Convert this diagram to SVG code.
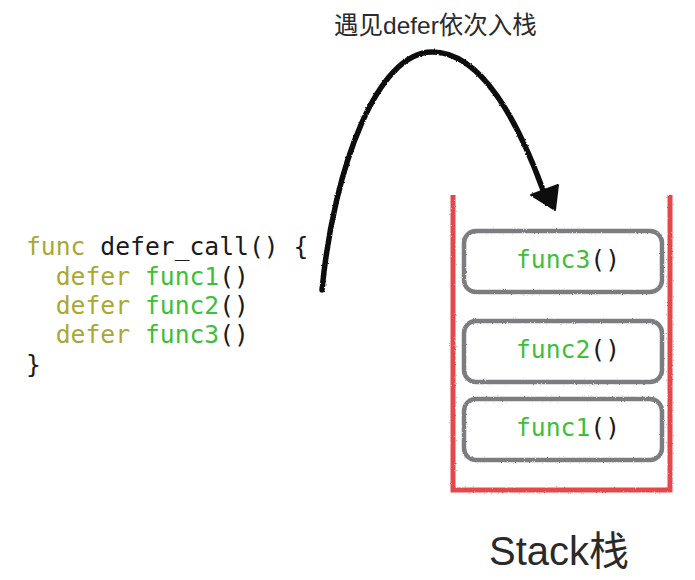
<svg xmlns="http://www.w3.org/2000/svg" width="695" height="580" viewBox="0 0 695 580">
  <style>
    .code { font-family: "DejaVu Sans Mono", "Liberation Mono", monospace; font-size: 24.7px; }
    .kw { fill: #a9a833; }
    .fn { fill: #3dbf3a; }
    .plain { fill: #1a1a1a; }
    .frame { fill: #ffffff; stroke: #7d7b80; stroke-width: 4.5; filter: url(#rough); }
    .label { font-family: "Liberation Sans", "Noto Sans CJK SC", sans-serif; fill: #2a2a2a; }
  </style>
  <defs>
    <!-- crayon-like edge roughness for the hand-drawn strokes -->
    <filter id="rough" x="-5%" y="-5%" width="110%" height="110%">
      <feTurbulence type="fractalNoise" baseFrequency="0.9" numOctaves="2" seed="3" result="noise"/>
      <feDisplacementMap in="SourceGraphic" in2="noise" scale="2.2" xChannelSelector="R" yChannelSelector="G"/>
    </filter>
  </defs>

  <rect width="695" height="580" fill="#ffffff"/>

  <!-- source listing -->
  <g id="code" class="code">
    <text x="26" y="255"><tspan class="kw">func</tspan><tspan class="plain"> defer_call() {</tspan></text>
    <text x="26" y="285" xml:space="preserve"><tspan class="kw">  defer</tspan><tspan class="fn"> func1</tspan><tspan class="plain">()</tspan></text>
    <text x="26" y="314" xml:space="preserve"><tspan class="kw">  defer</tspan><tspan class="fn"> func2</tspan><tspan class="plain">()</tspan></text>
    <text x="26" y="343" xml:space="preserve"><tspan class="kw">  defer</tspan><tspan class="fn"> func3</tspan><tspan class="plain">()</tspan></text>
    <text x="26" y="373" class="plain">}</text>
  </g>

  <!-- push label -->
  <g id="push-label">
    <text class="label" x="334" y="34" font-size="24.5">遇见defer依次入栈</text>
  </g>

  <!-- stack container -->
  <g id="stack">
    <path d="M453,195 L453,490 L670,490 L670,195" fill="none" stroke="#e8474a" stroke-width="5" filter="url(#rough)"/>
  </g>

  <g id="frame-func3">
    <rect class="frame" x="464" y="231" width="198" height="61" rx="12"/>
    <text class="code" x="568" y="268" text-anchor="middle"><tspan class="fn">func3</tspan><tspan class="plain">()</tspan></text>
  </g>
  <g id="frame-func2">
    <rect class="frame" x="464" y="321" width="198" height="61" rx="12"/>
    <text class="code" x="568" y="358" text-anchor="middle"><tspan class="fn">func2</tspan><tspan class="plain">()</tspan></text>
  </g>
  <g id="frame-func1">
    <rect class="frame" x="464" y="399" width="198" height="61" rx="12"/>
    <text class="code" x="568" y="436" text-anchor="middle"><tspan class="fn">func1</tspan><tspan class="plain">()</tspan></text>
  </g>

  <g id="stack-label">
    <text class="label" x="489" y="565" font-size="40">Stack栈</text>
  </g>

  <!-- connectors -->
  <g id="connectors" filter="url(#rough)">
    <path d="M322,290 C334,165 378,52 432,52 C482,52 518,122 543,190" fill="none" stroke="#111" stroke-width="5.5" stroke-linecap="round"/>
    <polygon points="555,210 531,195 558,185" fill="#111" stroke="#111" stroke-width="2" stroke-linejoin="round"/>
  </g>
</svg>
